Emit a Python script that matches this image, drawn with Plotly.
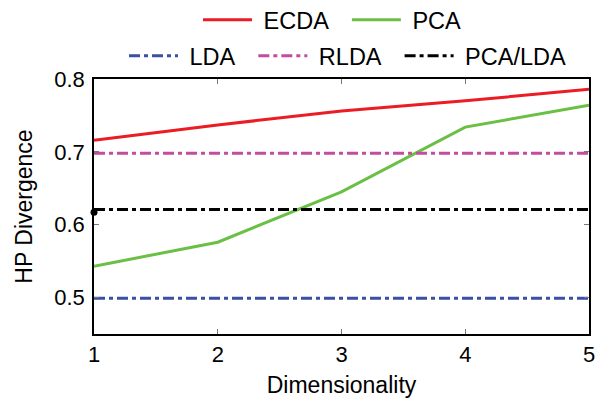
import plotly.graph_objects as go

dims = [1, 2, 3, 4, 5]
ecda = [0.716, 0.737, 0.756, 0.770, 0.786]
pca = [0.543, 0.576, 0.645, 0.734, 0.764]
lda = [0.499] * 5
rlda = [0.698] * 5
pcalda = [0.621] * 5
y_ticks = [0.5, 0.6, 0.7, 0.8]

NB = "\u00a0"
dash = "11px,4px,4px,4px"
fig = go.Figure()
fig.add_trace(go.Scatter(x=dims, y=ecda, name=NB + "ECDA" + NB * 2, mode="lines",
                         line=dict(color="#ec1c24", width=3), legend="legend"))
fig.add_trace(go.Scatter(x=dims, y=pca, name=NB + "PCA", mode="lines",
                         line=dict(color="#6abf45", width=3), legend="legend"))
fig.add_trace(go.Scatter(x=dims, y=lda, name=NB + "LDA" + NB * 2, mode="lines",
                         line=dict(color="#3b50a3", width=3, dash=dash), legend="legend2"))
fig.add_trace(go.Scatter(x=dims, y=rlda, name=NB + "RLDA" + NB * 2, mode="lines",
                         line=dict(color="#c24d9f", width=3, dash=dash), legend="legend2"))
fig.add_trace(go.Scatter(x=dims, y=pcalda, name=NB + "PCA/LDA", mode="lines",
                         line=dict(color="#000000", width=3, dash=dash), legend="legend2"))
fig.add_trace(go.Scatter(x=[dims[0]], y=[pcalda[0] - 0.004], mode="markers",
                         marker=dict(color="black", size=7), showlegend=False,
                         cliponaxis=False))

axis_common = dict(showline=True, linecolor="black", linewidth=1.5, mirror="ticks",
                   ticks="inside", ticklen=5, tickcolor="#777", showgrid=False,
                   zeroline=False, tickfont=dict(size=22, color="black"))
fig.update_layout(
    width=598, height=398,
    margin=dict(l=94, r=9, t=79, b=64, autoexpand=False),
    paper_bgcolor="white", plot_bgcolor="white",
    font=dict(family="Liberation Sans, Arial, sans-serif", color="black"),
    xaxis=dict(range=[1, 5], tickvals=dims, title=dict(text="Dimensionality", font=dict(size=23), standoff=20),
               **axis_common),
    yaxis=dict(range=[0.45, 0.8], tickvals=y_ticks, tickformat=".1f", ticklabelstandoff=3,
               title=dict(text="HP Divergence", font=dict(size=23), standoff=15), **axis_common),
    legend=dict(orientation="h", xref="container", yref="container", x=198 / 598, xanchor="left",
                y=1 - 20 / 398, yanchor="middle",
                font=dict(size=23.5), bgcolor="rgba(0,0,0,0)", itemwidth=49),
    legend2=dict(orientation="h", xref="container", yref="container", x=124 / 598, xanchor="left",
                 y=1 - 56 / 398, yanchor="middle",
                 font=dict(size=23.5), bgcolor="rgba(0,0,0,0)", itemwidth=49),
    showlegend=True,
)
fig.write_html("out.html")
